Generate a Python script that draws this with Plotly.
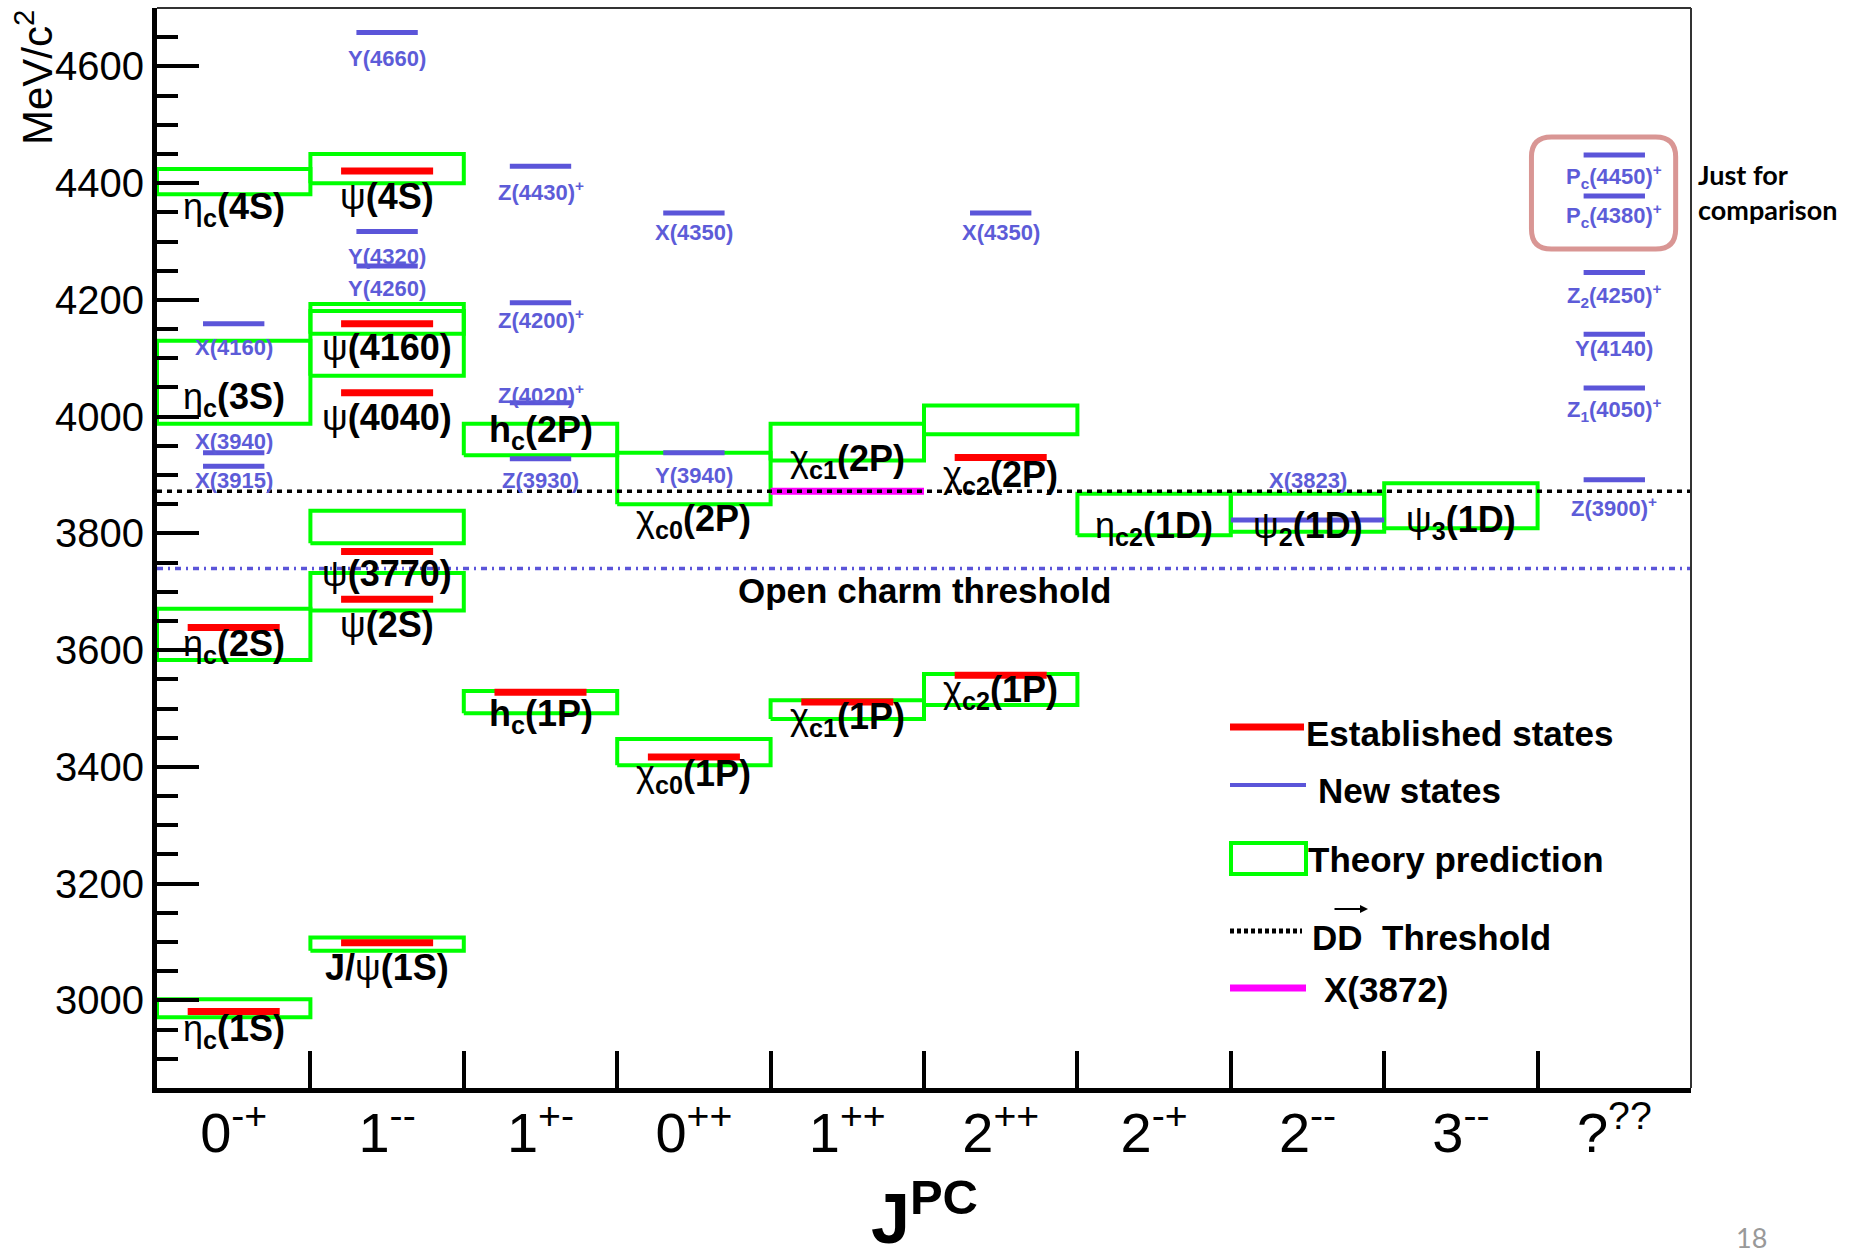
import plotly.graph_objects as go

# ---------------- data ----------------
categories = ["0<sup>-+</sup>", "1<sup>--</sup>", "1<sup>+-</sup>", "0<sup>++</sup>", "1<sup>++</sup>",
              "2<sup>++</sup>", "2<sup>-+</sup>", "2<sup>--</sup>", "3<sup>--</sup>", "?<sup>??</sup>"]

# established states (red)
est_bin = [0, 0, 1, 1, 1, 1, 1, 1, 2, 3, 4, 5, 5]
est_mass = [2981, 3639, 3099, 3687, 3769, 4041, 4159, 4421, 3528, 3417, 3511, 3557, 3930]

# new states (blue)
new_names = ["X(3915)", "X(3940)", "X(4160)",
             "Y(4260)", "Y(4320)", "Y(4660)",
             "Z(3930)", "Z(4020)<sup>+</sup>", "Z(4200)<sup>+</sup>", "Z(4430)<sup>+</sup>",
             "Y(3940)", "X(4350)", "X(4350)", "X(3823)",
             "Z(3900)<sup>+</sup>", "Z<sub>1</sub>(4050)<sup>+</sup>", "Y(4140)",
             "Z<sub>2</sub>(4250)<sup>+</sup>", "P<sub>c</sub>(4380)<sup>+</sup>", "P<sub>c</sub>(4450)<sup>+</sup>"]
new_bin = [0, 0, 0, 1, 1, 1, 2, 2, 2, 2, 3, 3, 5, 7, 9, 9, 9, 9, 9, 9]
new_mass = [3915, 3938, 4159, 4258, 4317, 4658, 3928, 4024, 4195, 4429,
            3938, 4349, 4349, 3823, 3892, 4049, 4141, 4247, 4378, 4448]
new_label_mass = [3891, 3958, 4118, 4219, 4275, 4614, 3891, 4039, 4167, 4386,
                  3899, 4315, 4315, 3891, 3845, 4013, 4116, 4207, 4344, 4412]
full_width_states = ["X(3823)"]

# theory predictions (green boxes)
theory_bin = [0, 0, 0, 0, 1, 1, 1, 1, 1, 1, 2, 2, 3, 3, 4, 4, 5, 5, 6, 7, 8]
theory_lo = [2971, 3583, 3988, 4381, 3085, 3668, 3783, 4070, 4142, 4400,
             3492, 3934, 3403, 3850, 3482, 3925, 3506, 3970, 3797, 3803, 3809]
theory_hi = [3002, 3671, 4130, 4424, 3108, 3732, 3839, 4181, 4193, 4450,
             3530, 3988, 3448, 3938, 3514, 3988, 3559, 4019, 3868, 3868, 3886]

# thresholds and X(3872)
dd_threshold = 3872
open_charm_threshold = 3740
x3872_bin = 4
x3872_mass = 3872

# conventional-state labels
state_labels = ["η<sub><b>c</b></sub><b>(1S)</b>", "η<sub><b>c</b></sub><b>(2S)</b>",
                "η<sub><b>c</b></sub><b>(3S)</b>", "η<sub><b>c</b></sub><b>(4S)</b>",
                "<b>J/</b>ψ<b>(1S)</b>", "ψ<b>(2S)</b>", "ψ<b>(3770)</b>", "ψ<b>(4040)</b>",
                "ψ<b>(4160)</b>", "ψ<b>(4S)</b>",
                "<b>h</b><sub><b>c</b></sub><b>(1P)</b>", "<b>h</b><sub><b>c</b></sub><b>(2P)</b>",
                "χ<sub><b>c0</b></sub><b>(1P)</b>", "χ<sub><b>c0</b></sub><b>(2P)</b>",
                "χ<sub><b>c1</b></sub><b>(1P)</b>", "χ<sub><b>c1</b></sub><b>(2P)</b>",
                "χ<sub><b>c2</b></sub><b>(1P)</b>", "χ<sub><b>c2</b></sub><b>(2P)</b>",
                "η<sub><b>c2</b></sub><b>(1D)</b>", "ψ<sub><b>2</b></sub><b>(1D)</b>",
                "ψ<sub><b>3</b></sub><b>(1D)</b>"]
state_label_bin = [0, 0, 0, 0, 1, 1, 1, 1, 1, 1, 2, 2, 3, 3, 4, 4, 5, 5, 6, 7, 8]
state_label_mass = [2948, 3607, 4030, 4355, 3057, 3644, 3732, 3999, 4118, 4377,
                    3487, 3973, 3385, 3821, 3482, 3924, 3528, 3897, 3810, 3810, 3819]

# ---------------- styles ----------------
GREEN = "#00ff00"
RED = "#ff0000"
BLUE = "#5b55d9"
BLUE_TXT = "#5d5cd8"
MAGENTA = "#ff00ff"
FONT = "Liberation Sans, Arial, sans-serif"
RED_HALF = 0.3
BLUE_HALF = 0.2

fig = go.Figure()

# theory boxes
tx, ty = [], []
for b, lo, hi in zip(theory_bin, theory_lo, theory_hi):
    tx += [b, b + 1, b + 1, b, b, None]
    ty += [lo, lo, hi, hi, lo, None]
fig.add_trace(go.Scatter(x=tx, y=ty, mode="lines", line=dict(color=GREEN, width=4),
                         name="Theory prediction", showlegend=False, hoverinfo="skip"))

# open charm threshold
fig.add_trace(go.Scatter(x=[0, len(categories)], y=[open_charm_threshold] * 2, mode="lines",
                         line=dict(color=BLUE, width=3.5, dash="6px,5px,2px,5px"),
                         showlegend=False, hoverinfo="skip"))

# X(3872)
fig.add_trace(go.Scatter(x=[x3872_bin, x3872_bin + 1], y=[x3872_mass] * 2, mode="lines",
                         line=dict(color=MAGENTA, width=7), showlegend=False, hoverinfo="skip"))

# DD* threshold
fig.add_trace(go.Scatter(x=[0, len(categories)], y=[dd_threshold] * 2, mode="lines",
                         line=dict(color="black", width=3.5, dash="5px,5px"),
                         showlegend=False, hoverinfo="skip"))

# established
rx, ry = [], []
for b, m in zip(est_bin, est_mass):
    rx += [b + 0.5 - RED_HALF, b + 0.5 + RED_HALF, None]
    ry += [m, m, None]
fig.add_trace(go.Scatter(x=rx, y=ry, mode="lines", line=dict(color=RED, width=7),
                         showlegend=False, hoverinfo="skip"))

# new states
bx, by = [], []
for nm, b, m in zip(new_names, new_bin, new_mass):
    h = 0.5 if nm in full_width_states else BLUE_HALF
    bx += [b + 0.5 - h, b + 0.5 + h, None]
    by += [m, m, None]
fig.add_trace(go.Scatter(x=bx, y=by, mode="lines", line=dict(color=BLUE, width=5),
                         showlegend=False, hoverinfo="skip"))

annotations = []
for nm, b, m in zip(new_names, new_bin, new_label_mass):
    annotations.append(dict(x=b + 0.5, y=m, xref="x", yref="y", text="<b>" + nm + "</b>",
                            showarrow=False, font=dict(family=FONT, size=22, color=BLUE_TXT),
                            xanchor="center", yanchor="middle"))
for t, b, m in zip(state_labels, state_label_bin, state_label_mass):
    annotations.append(dict(x=b + 0.5, y=m, xref="x", yref="y", text=t, showarrow=False,
                            font=dict(family=FONT, size=36, color="black"),
                            xanchor="center", yanchor="middle"))

# threshold text
annotations.append(dict(x=5.0, y=3703, xref="x", yref="y", text="<b>Open charm threshold</b>",
                        showarrow=False, font=dict(family=FONT, size=35, color="black"),
                        xanchor="center", yanchor="middle"))

# plot geometry (pixels) for paper conversion
L, R, T, B = 157, 1691, 8, 1088
def px(x):
    return (x - L) / (R - L)
def py(y):
    return (B - y) / (B - T)

# legend (manual, ROOT style)
shapes = []
shapes.append(dict(type="line", xref="paper", yref="paper", x0=px(1230), x1=px(1304), y0=py(727), y1=py(727),
                   line=dict(color=RED, width=7)))
shapes.append(dict(type="line", xref="paper", yref="paper", x0=px(1230), x1=px(1306), y0=py(785), y1=py(785),
                   line=dict(color=BLUE, width=4)))
shapes.append(dict(type="rect", xref="paper", yref="paper", x0=px(1231), x1=px(1306), y0=py(874), y1=py(843),
                   line=dict(color=GREEN, width=4)))
shapes.append(dict(type="line", xref="paper", yref="paper", x0=px(1230), x1=px(1302), y0=py(931), y1=py(931),
                   line=dict(color="black", width=5, dash="4px,3px")))
shapes.append(dict(type="line", xref="paper", yref="paper", x0=px(1230), x1=px(1306), y0=py(988), y1=py(988),
                   line=dict(color=MAGENTA, width=7)))
leg_items = [("<b>Established states</b>", 1304, 733), ("<b>New states</b>", 1316, 790),
             ("<b>Theory prediction</b>", 1306, 859), ("<b>DD  Threshold</b>", 1310, 937),
             ("<b>X(3872)</b>", 1322, 989)]
for t, x, y in leg_items:
    annotations.append(dict(x=px(x), y=py(y), xref="paper", yref="paper", text=t, showarrow=False,
                            font=dict(family=FONT, size=35, color="black"), xanchor="left", yanchor="middle"))
# arrow over second D
annotations.append(dict(x=px(1368), y=py(909), xref="paper", yref="paper", text="", showarrow=True,
                        ax=-35, ay=0, arrowhead=2, arrowsize=0.8, arrowwidth=2, arrowcolor="black"))

# frame top/right
shapes.append(dict(type="line", xref="paper", yref="paper", x0=0, x1=1, y0=1, y1=1,
                   line=dict(color="#333333", width=2)))
shapes.append(dict(type="line", xref="paper", yref="paper", x0=1, x1=1, y0=0, y1=1,
                   line=dict(color="#333333", width=2)))

# rounded box around Pc states
x0, x1, y0, y1 = 8.96, 9.90, 4287, 4479
rxr, ryr = 0.13, 34
path = (f"M {x0+rxr},{y0} L {x1-rxr},{y0} Q {x1},{y0} {x1},{y0+ryr} L {x1},{y1-ryr} "
        f"Q {x1},{y1} {x1-rxr},{y1} L {x0+rxr},{y1} Q {x0},{y1} {x0},{y1-ryr} "
        f"L {x0},{y0+ryr} Q {x0},{y0} {x0+rxr},{y0} Z")
shapes.append(dict(type="path", xref="x", yref="y", path=path, line=dict(color="#d99694", width=5)))

# side texts
annotations.append(dict(x=px(1696), y=py(192), xref="paper", yref="paper",
                        text="<b>Just for</b><br><b>comparison</b>", showarrow=False, align="left",
                        font=dict(family="Lato, Open Sans, sans-serif", size=27, color="black"),
                        xanchor="left", yanchor="middle"))
annotations.append(dict(x=px(1751), y=py(1237), xref="paper", yref="paper", text="18", showarrow=False,
                        font=dict(family="Lato, Open Sans, sans-serif", size=27, color="#999999"),
                        xanchor="center", yanchor="middle"))
# axis titles
annotations.append(dict(x=px(34), y=py(78), xref="paper", yref="paper", text="MeV/c<sup>2</sup>",
                        textangle=-90, showarrow=False, font=dict(family=FONT, size=42, color="black"),
                        xanchor="center", yanchor="middle"))
annotations.append(dict(x=0.5, y=py(1214), xref="paper", yref="paper", text="<b>J<sup>PC</sup></b>",
                        showarrow=False, font=dict(family=FONT, size=70, color="black"),
                        xanchor="center", yanchor="middle"))

fig.update_layout(
    width=1851, height=1257,
    margin=dict(l=L, r=1851 - R, t=T, b=1257 - B, autoexpand=False),
    paper_bgcolor="white", plot_bgcolor="white",
    showlegend=False,
    shapes=shapes, annotations=annotations,
    xaxis=dict(range=[0, len(categories)], showgrid=False, zeroline=False, showline=True,
               linecolor="black", linewidth=5,
               tickmode="array", tickvals=[i + 0.5 for i in range(len(categories))], ticktext=categories,
               ticks="inside", ticklen=0, tickwidth=0,
               minor=dict(tickmode="array", tickvals=list(range(1, len(categories) + 1)),
                          ticks="inside", ticklen=37, tickwidth=4, tickcolor="black", showgrid=False),
               tickfont=dict(family=FONT, size=56, color="black"), ticklabelstandoff=-8, fixedrange=True),
    yaxis=dict(range=[2850, 4700], showgrid=False, zeroline=False, showline=True,
               linecolor="black", linewidth=5, tick0=0, dtick=200,
               ticks="inside", ticklen=42, tickwidth=4, tickcolor="black",
               minor=dict(dtick=50, ticks="inside", ticklen=21, tickwidth=4, tickcolor="black", showgrid=False),
               tickfont=dict(family=FONT, size=40, color="black"), ticklabelstandoff=0, fixedrange=True),
)

fig.write_html("out.html")
